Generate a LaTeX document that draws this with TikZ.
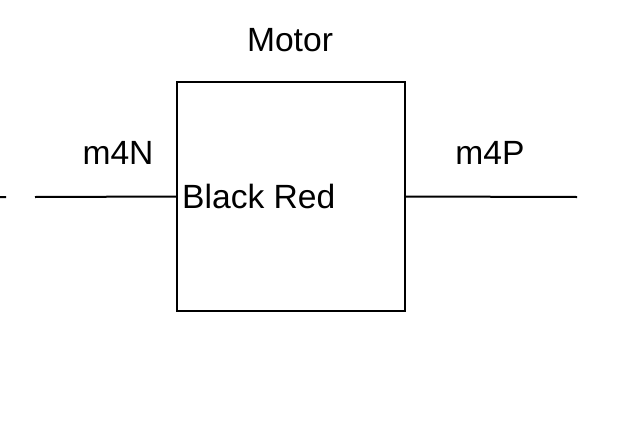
\documentclass[tikz,border=0pt]{standalone}
\usepackage{fontspec}
\setmainfont{Liberation Sans}
\usetikzlibrary{positioning}
\tikzset{
wire/.style={line width=2pt}, % the connecting lines
lbl/.style={draw=none, font=\fontsize{33.6}{40}\selectfont, inner sep=0pt},
}

\begin{document}
\begin{tikzpicture}[x=1pt, y=-1pt]
        \useasboundingbox (0,0) rectangle (630,426);
        \node[draw, line width=2pt, minimum width=228pt, minimum height=229pt, inner sep=0pt] at (291,196.5) (motor) {};
        \node[lbl, anchor=west] at ([xshift=6pt]motor.west) (mtext) {Black Red};
        \node[lbl] at (290,40) (mname) {Motor};
        \node[lbl] at (118,153) (nlbl) {m4N};
        \node[lbl] at (490,153) (plbl) {m4P};
        \coordinate (nend) at (35,197);
        \coordinate (pend) at (577,197);
        \coordinate (d1) at (0,197);
        \coordinate (d2) at (6,197);
        \draw[wire]
        (nend) -- (motor.west)
        (motor.east) -- (pend)
        (d1) -- (d2)
        ;
    \end{tikzpicture}
\end{document}
